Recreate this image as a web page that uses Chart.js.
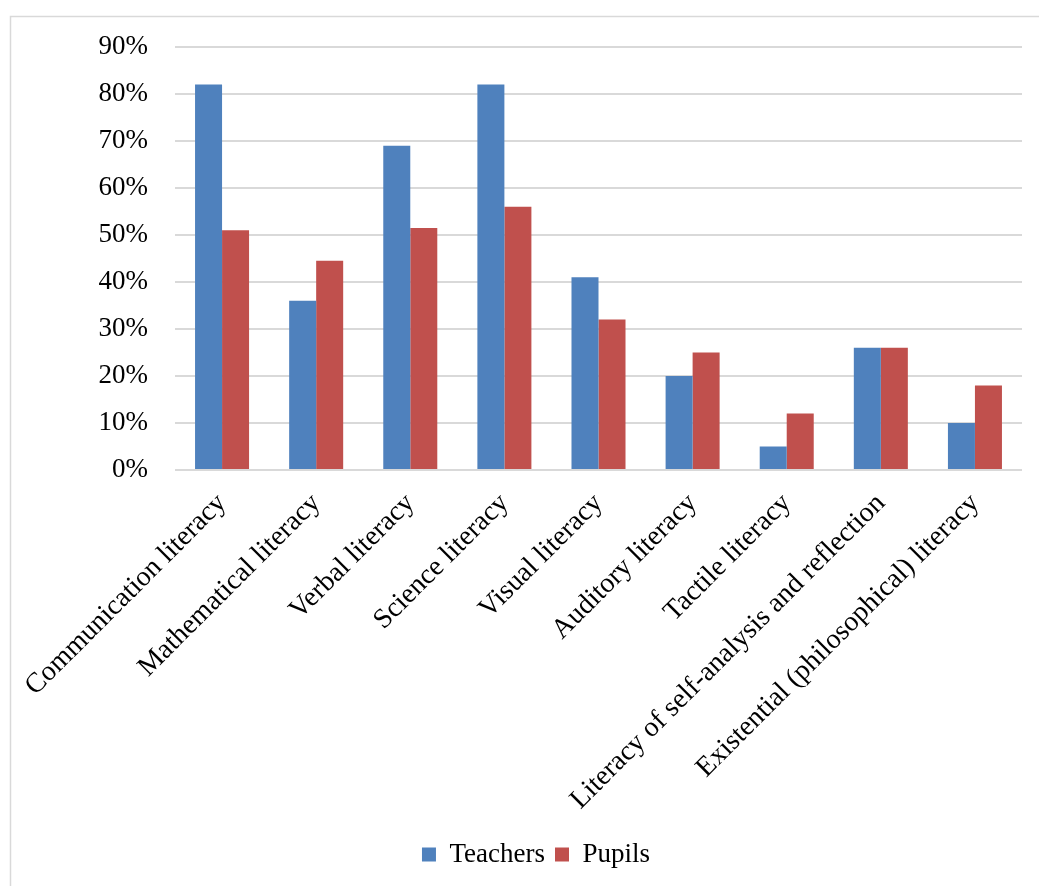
<!DOCTYPE html>
<html>
<head>
<meta charset="utf-8">
<title>Literacy types: teachers vs pupils</title>
<script src="https://cdn.jsdelivr.net/npm/chart.js@4"></script>
<style>
  html, body { margin: 0; padding: 0; background: #fff; }
  #wrap { width: 1039px; height: 886px; }
</style>
</head>
<body>
<div id="wrap"><canvas id="literacyChart" width="1039" height="886"></canvas></div>
<script>
// Categories and values (percent)
const categories = [
    'Communication literacy',
    'Mathematical literacy',
    'Verbal literacy',
    'Science literacy',
    'Visual literacy',
    'Auditory literacy',
    'Tactile literacy',
    'Literacy of self-analysis and reflection',
    'Existential (philosophical) literacy'
];
const teachers = [82, 36, 69, 82, 41, 20, 5, 26, 10];
const pupils = [51, 44.5, 51.5, 56, 32, 25, 12, 26, 18];
const yTicks = [0, 10, 20, 30, 40, 50, 60, 70, 80, 90];

const serif = 'Liberation Serif, Times New Roman, serif';

// Thin frame round the chart
const framePlugin = {
    id: 'frame',
    beforeDraw(chart) {
        const ctx = chart.ctx;
        ctx.save();
        ctx.strokeStyle = '#d9d9d9';
        ctx.lineWidth = 1.5;
        ctx.strokeRect(10.5, 16.5, 2000, 2000);
        ctx.restore();
    }
};

const ctx = document.getElementById('literacyChart').getContext('2d');
new Chart(ctx, {
    type: 'bar',
    data: {
        labels: categories,
        datasets: [
            { label: 'Teachers', data: teachers, backgroundColor: '#4f81bd' },
            { label: 'Pupils', data: pupils, backgroundColor: '#c0504d' }
        ]
    },
    options: {
        responsive: false,
        animation: false,
        categoryPercentage: 0.574,
        barPercentage: 1,
        layout: { padding: { top: 47, left: 50, right: 17, bottom: 8 } },
        plugins: {
            legend: {
                position: 'bottom',
                labels: {
                    font: { family: serif, size: 27 },
                    color: '#000',
                    boxWidth: 14,
                    boxHeight: 14,
                    padding: 10
                }
            },
            tooltip: { enabled: false }
        },
        scales: {
            x: {
                grid: { display: false },
                border: { display: false },
                ticks: {
                    color: '#000',
                    font: { family: serif, size: 28 },
                    minRotation: 45,
                    maxRotation: 45,
                    autoSkip: false,
                    padding: 9
                },
                afterFit(scale) { scale.height = 361; }
            },
            y: {
                min: 0,
                max: 90,
                afterBuildTicks(scale) { scale.ticks = yTicks.map(v => ({ value: v })); },
                grid: { color: '#d9d9d9', lineWidth: 2, drawTicks: false },
                border: { display: false },
                ticks: {
                    color: '#000',
                    font: { family: serif, size: 27 },
                    padding: 27,
                    callback: v => v + '%'
                },
                afterFit(scale) { scale.width = 125; }
            }
        }
    },
    plugins: [framePlugin]
});
</script>
</body>
</html>
